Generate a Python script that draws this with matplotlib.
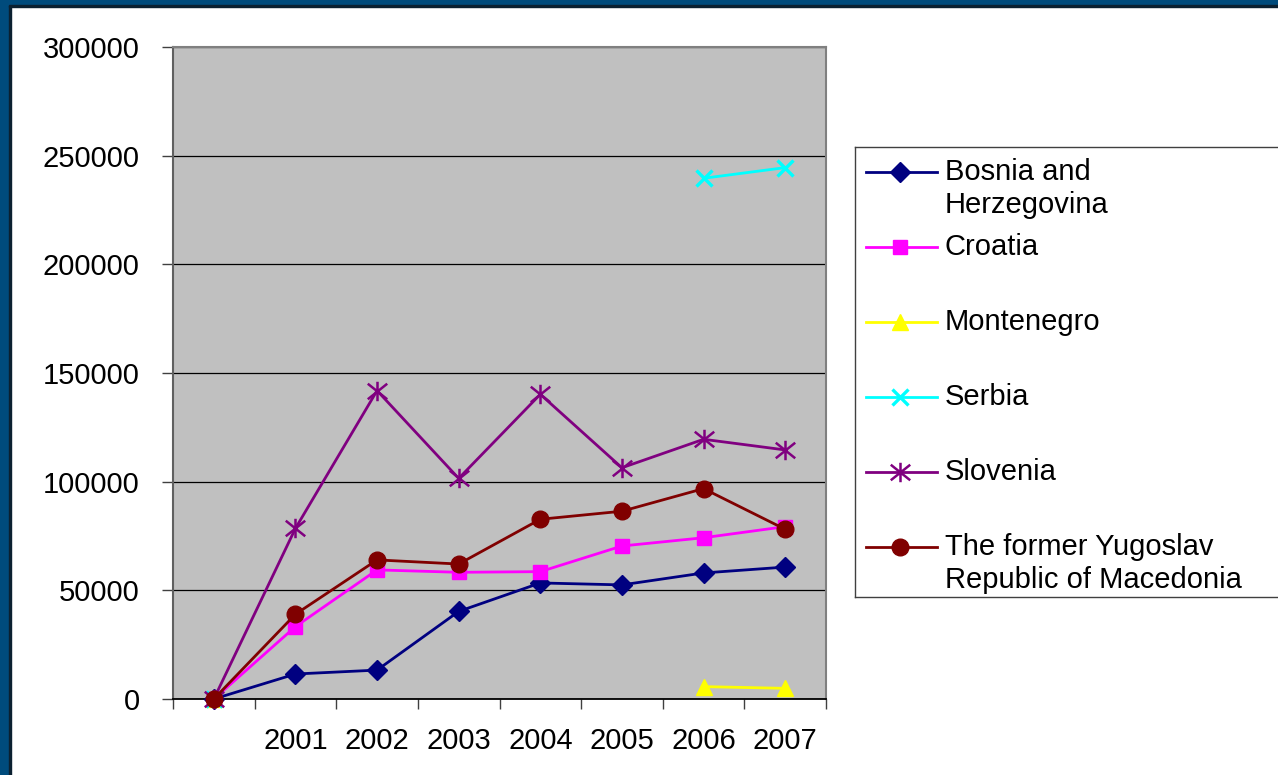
import numpy as np
import matplotlib
matplotlib.use("Agg")
import matplotlib.pyplot as plt
from matplotlib.path import Path
from matplotlib.patches import Rectangle

plt.rcParams['font.family'] = ['Liberation Sans', 'DejaVu Sans']

# yearly values, 2000 first (left without a tick label)
years = ["", "2001", "2002", "2003", "2004", "2005", "2006", "2007"]
bosnia = [0, 11500, 13300, 40300, 53400, 52500, 58000, 60700]
croatia = [0, 33300, 59400, 58300, 58600, 70400, 74200, 79300]
montenegro = [0, np.nan, np.nan, np.nan, np.nan, np.nan, 5700, 4900]
serbia = [0, np.nan, np.nan, np.nan, np.nan, np.nan, 239600, 244500]
slovenia = [0, 78500, 141900, 101500, 140200, 106400, 119500, 114600]
macedonia = [0, 39000, 64000, 62100, 82700, 86400, 96800, 78100]

names = ["Bosnia and\nHerzegovina", "Croatia", "Montenegro", "Serbia",
         "Slovenia", "The former Yugoslav\nRepublic of Macedonia"]

# Excel style star: an x with a vertical bar through it
star = Path([(-1, -0.8), (1, 0.8), (-1, 0.8), (1, -0.8), (0, -1), (0, 1)],
            [Path.MOVETO, Path.LINETO, Path.MOVETO, Path.LINETO, Path.MOVETO, Path.LINETO])

series = [
    (bosnia, "#000080", "D", 10, 1),
    (croatia, "#FF00FF", "s", 10, 1),
    (montenegro, "#FFFF00", "^", 12, 1),
    (serbia, "#00FFFF", "x", 12, 2.4),
    (slovenia, "#800080", star, 14, 1.8),
    (macedonia, "#800000", "o", 12, 1),
]

FS = 21
W, H = 1278, 775
fig = plt.figure(figsize=(W / 100, H / 100), dpi=100, facecolor="white")

# blue frame on the left and top
blue = "#004B7C"
fig.add_artist(Rectangle((0, 0), 9 / W, 1, transform=fig.transFigure, color=blue, zorder=0))
fig.add_artist(Rectangle((9 / W, 0), 1.5 / W, 1 - 5 / H, transform=fig.transFigure, color="#0B2030", zorder=0))
fig.add_artist(Rectangle((0, 1 - 5 / H), 1, 5 / H, transform=fig.transFigure, color=blue, zorder=0))
fig.add_artist(Rectangle((9 / W, 1 - 6.5 / H), 1, 1.5 / H, transform=fig.transFigure, color="#0B2030", zorder=0))

ax = fig.add_axes([173 / W, 1 - 699 / H, 653 / W, 652 / H])
ax.set_facecolor("#C0C0C0")

x = np.arange(len(years))
for vals, col, mk, ms, mew in series:
    ax.plot(x, vals, color=col, lw=2.0, marker=mk, markersize=ms,
            markerfacecolor=col, markeredgecolor=col, markeredgewidth=mew,
            clip_on=False, zorder=3)

ax.set_xlim(-0.5, len(years) - 0.5)
ax.set_ylim(0, 300000)
ax.set_yticks(np.arange(0, 300001, 50000))
ax.set_yticklabels([str(v) for v in range(0, 300001, 50000)])
ax.yaxis.grid(True, color="black", lw=0.9)
ax.set_axisbelow(True)

ax.set_xticks(x)
ax.set_xticklabels(years)
ax.set_xticks(np.arange(-0.5, len(years)), minor=True)
ax.tick_params(axis="x", which="major", length=0, pad=20, labelsize=FS)
ax.tick_params(axis="x", which="minor", length=7, width=1, color="#404040", direction="out")
ax.tick_params(axis="y", length=8, width=1, color="#404040", pad=16, labelsize=FS)

ax.spines["bottom"].set_color("black")
ax.spines["bottom"].set_linewidth(1.3)
ax.spines["left"].set_color("#606060")
ax.spines["left"].set_linewidth(1.5)
ax.spines["top"].set_color("#808080")
ax.spines["top"].set_linewidth(1.5)
ax.spines["right"].set_color("#808080")
ax.spines["right"].set_linewidth(1.5)

# legend drawn in pixel coordinates, running off the right edge
lax = fig.add_axes([855 / W, 1 - 597 / H, (1300 - 855) / W, 450 / H])
lax.set_xlim(855, 1300)
lax.set_ylim(597, 147)
lax.set_xticks([])
lax.set_yticks([])
lax.set_facecolor("white")
for s in lax.spines.values():
    s.set_color("#404040")
    s.set_linewidth(1.0)

for i, (name, (vals, col, mk, ms, mew)) in enumerate(zip(names, series)):
    yy = 171.7 + 75 * i
    lax.plot([866, 937], [yy, yy], color=col, lw=2.0)
    lax.plot([900], [yy], marker=mk, markersize=ms, color=col,
             markerfacecolor=col, markeredgecolor=col, markeredgewidth=mew)
    for k, line in enumerate(name.split("\n")):
        lax.text(945, yy + 8 + 33 * k, line, fontsize=FS, va="baseline",
                 ha="left", clip_on=False)

fig.savefig("out.png", dpi=100, facecolor="white")
